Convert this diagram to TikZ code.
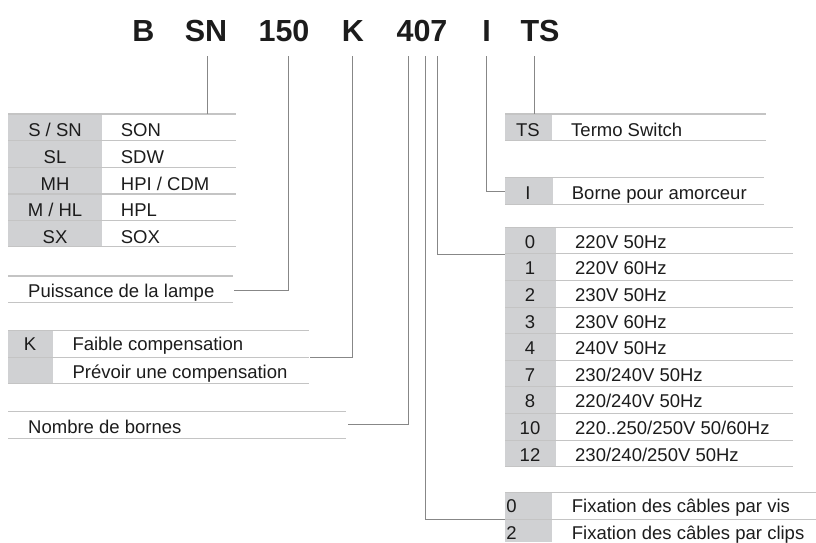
\documentclass[tikz,border=0pt]{standalone}
\usepackage{fontspec}
\setmainfont{Liberation Sans}
\definecolor{tgray}{RGB}{208,209,211}
\definecolor{rulec}{RGB}{196,196,196}
\definecolor{connc}{RGB}{135,135,135}
\definecolor{ink}{RGB}{28,28,28}
\newcommand{\bodyfont}{\fontsize{18.5}{21}\selectfont}
\newcommand{\titlefont}{\fontsize{30.5}{34}\selectfont\bfseries}
\tikzset{
  txt/.style={anchor=base west, inner sep=0pt, font=\bodyfont, text=ink},
  ctr/.style={anchor=base, inner sep=0pt, font=\bodyfont, text=ink},
  ttl/.style={anchor=base, inner sep=0pt, font=\titlefont, text=ink},
  rulel/.style={draw=rulec, line width=1.1pt},
  conn/.style={draw=connc, line width=0.9pt},
  gcell/.style={fill=tgray}
}
\begin{document}
\begin{tikzpicture}[x=1pt,y=-1pt]
\useasboundingbox (0,0) rectangle (816,542);

% ---- title ----
\node[ttl] (tB)   at (143.5,41) {B};
\node[ttl] (tSN)  at (206,41) {SN};
\node[ttl] (t150) at (284,41) {150};
\node[ttl] (tK)   at (353,41) {K};
\node[ttl] (t407) at (422,41) {407};
\node[ttl] (tI)   at (486.5,41) {I};
\node[ttl] (tTS)  at (540,41) {TS};

% connector starts
\coordinate (sSN)  at (207.7,56);
\coordinate (s150) at (288.3,56);
\coordinate (sK)   at (352.7,56);
\coordinate (s4)   at (408.3,56);
\coordinate (s0)   at (425,56);
\coordinate (s7)   at (437.7,56);
\coordinate (sI)   at (486,56);
\coordinate (sTS)  at (534.3,56);

% ---- lamp table ----
\fill[gcell] (8,114) rectangle (102,246.7);
\foreach \y in {114,140.7,167.3,194,220.7,246.7} \draw[rulel] (8,\y) -- (235.7,\y);
\foreach \a/\b/\y in {{S / SN}/SON/136.8, SL/SDW/163.5, MH/{HPI / CDM}/190.1, {M / HL}/HPL/216.8, SX/SOX/243.4}{
  \node[ctr] at (55,\y) {\a};
  \node[txt] at (120.7,\y) {\b};
}
\coordinate (eSN) at (207.7,114);

% ---- puissance ----
\draw[rulel] (8,276) -- (232.7,276);
\draw[rulel] (8,302.3) -- (232.7,302.3);
\node[txt] (puis) at (28,297.3) {Puissance de la lampe};
\coordinate (e150) at (234,290);

% ---- K table ----
\fill[gcell] (8,330.7) rectangle (52.7,383.3);
\foreach \y in {330.7,357.3,383.3} \draw[rulel] (8,\y) -- (309,\y);
\node[ctr] at (30,350) {K};
\node[txt] at (72.3,350) {Faible compensation};
\node[txt] at (72.3,378.5) {Prévoir une compensation};
\coordinate (eK) at (310,357.3);

% ---- nombre de bornes ----
\draw[rulel] (8,411.7) -- (346,411.7);
\draw[rulel] (8,438.3) -- (346,438.3);
\node[txt] (nomb) at (28,433.3) {Nombre de bornes};
\coordinate (e4) at (348.3,424.3);

% ---- TS table ----
\fill[gcell] (505,114) rectangle (551.7,140.7);
\draw[rulel] (505,114) -- (765.7,114);
\draw[rulel] (505,140.7) -- (765.7,140.7);
\node[ctr] at (528,136) {TS};
\node[txt] at (571,136) {Termo Switch};
\coordinate (eTS) at (534.3,114);

% ---- I table ----
\fill[gcell] (505,177.7) rectangle (552.7,204.3);
\draw[rulel] (505,177.7) -- (764,177.7);
\draw[rulel] (505,204.3) -- (764,204.3);
\node[ctr] at (528,199) {I};
\node[txt] at (571.7,199) {Borne pour amorceur};
\coordinate (eI) at (505,191.7);

% ---- voltage table ----
\fill[gcell] (505,227.3) rectangle (555.7,466.7);
\foreach \k in {0,...,9} \draw[rulel] (505,227.3+26.6*\k) -- (793.3,227.3+26.6*\k);
\foreach \n/\t [count=\i from 0] in {0/220V 50Hz, 1/220V 60Hz, 2/230V 50Hz, 3/230V 60Hz, 4/240V 50Hz, 7/{230/240V 50Hz}, 8/{220/240V 50Hz}, 10/{220..250/250V 50/60Hz}, 12/{230/240/250V 50Hz}}{
  \node[ctr] at (530,248.3+26.6*\i) {\n};
  \node[txt] at (575,248.3+26.6*\i) {\t};
}
\coordinate (e7) at (505,254);

% ---- fixation table ----
\fill[gcell] (505,492.7) rectangle (551.7,542);
\draw[rulel] (505,492.7) -- (816,492.7);
\draw[rulel] (505,519.3) -- (816,519.3);
\node[ctr] at (511.5,512.7) {0};
\node[txt] at (571.7,512.7) {Fixation des câbles par vis};
\node[ctr] at (511.5,539.5) {2};
\node[txt] at (571.7,539.5) {Fixation des câbles par clips};
\coordinate (e0) at (505,519.5);

% ---- connectors ----
\draw[conn] (sSN) -- (eSN);
\draw[conn] (s150) |- (e150);
\draw[conn] (sK) |- (eK);
\draw[conn] (s4) |- (e4);
\draw[conn] (s0) |- (e0);
\draw[conn] (s7) |- (e7);
\draw[conn] (sI) |- (eI);
\draw[conn] (sTS) -- (eTS);
\end{tikzpicture}
\end{document}
